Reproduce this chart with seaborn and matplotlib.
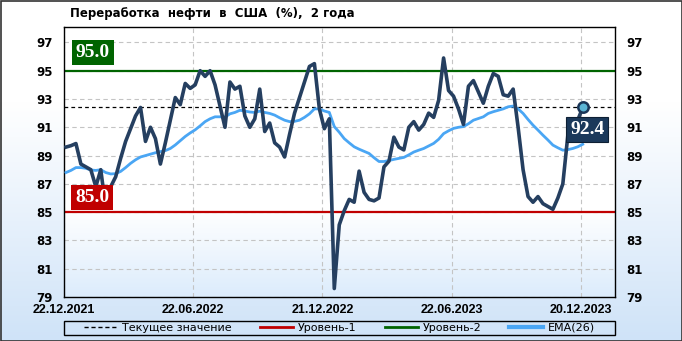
import matplotlib
matplotlib.use("Agg")
import numpy as np
import pandas as pd
import seaborn as sns
import matplotlib.pyplot as plt
from matplotlib.patches import Rectangle
from matplotlib.lines import Line2D

# ---------------- data ----------------
weeks = list(range(105))
refining = [89.6, 89.7, 89.85, 88.4, 88.2, 88.0, 86.8, 88.0, 85.3, 86.8,
            87.5, 88.8, 90.0, 90.9, 91.8, 92.4, 90.0, 91.0, 90.2, 88.4,
            89.9, 91.5, 93.1, 92.6, 94.1, 93.75, 94.0, 95.0, 94.6, 95.0,
            94.0, 92.5, 91.0, 94.2, 93.7, 93.9, 91.8, 91.0, 91.6, 93.7,
            90.7, 91.3, 89.9, 89.6, 88.9, 90.5, 92.0, 93.1, 94.2, 95.3,
            95.5, 92.3, 90.9, 91.6, 79.6, 84.1, 85.1, 85.9, 85.7, 87.9,
            86.4, 85.9, 85.8, 86.0, 88.2, 88.6, 90.3, 89.6, 89.4, 91.0,
            91.4, 90.8, 91.2, 92.0, 91.7, 92.9, 95.9, 93.6, 93.2, 92.3,
            91.2, 93.9, 94.3, 93.5, 92.7, 93.9, 94.8, 94.6, 93.3, 93.2,
            93.7, 91.0, 88.0, 86.1, 85.7, 86.1, 85.6, 85.4, 85.2, 86.0,
            87.0, 90.4, 91.1, 91.5, 92.4]
ema26 = [87.80, 87.95, 88.15, 88.15, 88.10, 87.98, 87.95, 88.00, 87.80, 87.70,
         87.72, 87.88, 88.15, 88.45, 88.70, 88.90, 89.00, 89.10, 89.20, 89.28,
         89.35, 89.50, 89.75, 90.05, 90.35, 90.60, 90.82, 91.10, 91.40, 91.60,
         91.74, 91.74, 91.72, 91.95, 92.05, 92.20, 92.15, 92.08, 92.05, 92.14,
         92.05, 91.98, 91.86, 91.67, 91.50, 91.40, 91.42, 91.50, 91.70, 91.95,
         92.30, 92.30, 92.15, 92.05, 91.05, 90.65, 90.20, 89.90, 89.62, 89.45,
         89.30, 89.15, 88.85, 88.58, 88.58, 88.65, 88.73, 88.80, 88.87, 89.05,
         89.25, 89.38, 89.50, 89.68, 89.86, 90.15, 90.55, 90.75, 90.92, 91.00,
         91.05, 91.25, 91.50, 91.62, 91.74, 91.98, 92.10, 92.20, 92.30, 92.45,
         92.50, 92.30, 91.98, 91.55, 91.15, 90.80, 90.44, 90.10, 89.74, 89.55,
         89.38, 89.42, 89.50, 89.62, 89.80]
level_1 = 85.0
level_2 = 95.0
current_value = 92.4
tick_weeks = [0, 26, 52, 78, 104]
tick_labels = ["22.12.2021", "22.06.2022", "21.12.2022", "22.06.2023", "20.12.2023"]
y_ticks = [79, 81, 83, 85, 87, 89, 91, 93, 95, 97]
title = "Переработка  нефти  в  США  (%),  2 года"
legend_labels = ["Текущее значение", "Уровень-1", "Уровень-2", "EMA(26)"]

df = pd.DataFrame({"pos": np.array(weeks) + 0.4, "value": refining, "ema": ema26})

W, H = 682, 341
XMAX = 110.9
YMIN, YMAX = 79, 98.09

fig = plt.figure(figsize=(W / 100, H / 100), dpi=100)

# figure background gradient
bg = fig.add_axes([0, 0, 1, 1], zorder=-10)
bg.set_axis_off()
n = 256
t = np.linspace(0, 1, n)  # 0 top -> 1 bottom
r = np.clip((t - 0.3) / 0.7, 0, 1)
top = np.array([1.0, 1.0, 1.0])
bottom = np.array([0xcf, 0xe3, 0xf8]) / 255
grad = top[None, :] * (1 - r[:, None]) + bottom[None, :] * r[:, None]
bg.imshow(grad[:, None, :], extent=[0, 1, 0, 1], aspect="auto")
bg.set_xlim(0, 1)
bg.set_ylim(0, 1)

ax = fig.add_axes([64 / W, 44 / H, 551 / W, 270 / H])
ax.patch.set_alpha(0)
r2 = np.clip((t - 0.68) / 0.32, 0, 1)
bottom2 = np.array([0xdc, 0xec, 0xfc]) / 255
grad2 = top[None, :] * (1 - r2[:, None]) + bottom2[None, :] * r2[:, None]
ax.imshow(grad2[:, None, :], extent=[0, XMAX, YMIN, YMAX], aspect="auto", zorder=-1)

ax.set_axisbelow(True)
ax.grid(True, color="#c4c4c4", linestyle=(0, (4, 3)), linewidth=0.8)

ax.axhline(level_1, color="#c00000", lw=1.6, zorder=2)
ax.axhline(level_2, color="#006400", lw=1.6, zorder=2)
ax.axhline(current_value, color="black", lw=0.9, ls=(0, (3, 2.5)), zorder=2)

sns.lineplot(data=df, x="pos", y="ema", color="#4aa6f4", linewidth=2.0,
             ax=ax, zorder=3, legend=False)
sns.lineplot(data=df, x="pos", y="value", color="#253f60", linewidth=2.6,
             ax=ax, zorder=4, legend=False)

ax.plot(df["pos"].iloc[-1], current_value, "o", ms=7.5, mfc="#5bb5d5",
        mec="#1a3557", mew=1.8, zorder=6)

box_font = dict(color="white", fontfamily="Liberation Serif", fontweight="bold",
                fontsize=14, ha="center", va="center", zorder=7)
ax.text(5.84, 96.28, f"{level_2:.1f}", bbox=dict(boxstyle="square,pad=0.2", fc="#006400", ec="none"), **box_font)
ax.text(5.63, 86.03, f"{level_1:.1f}", bbox=dict(boxstyle="square,pad=0.2", fc="#c00000", ec="none"), **box_font)
ax.text(105.3, 90.82, f"{current_value:.1f}", bbox=dict(boxstyle="square,pad=0.2", fc="#1b395b", ec="#0d1f33", lw=0.8), **box_font)

ax.set_xlim(0, XMAX)
ax.set_ylim(YMIN, YMAX)
ax.set_xlabel("")
ax.set_ylabel("")
ax.set_yticks(y_ticks)
ax.set_yticklabels([str(v) for v in y_ticks])
ax.set_xticks(tick_weeks)
ax.set_xticklabels(tick_labels)
ax.tick_params(axis="y", length=0, pad=8, labelleft=True, labelright=True)
ax.tick_params(axis="x", length=0, pad=5)
for lab in ax.get_yticklabels():
    lab.set_fontfamily("DejaVu Sans")
    lab.set_fontweight("bold")
    lab.set_fontsize(8.5)
for lab in ax.get_xticklabels():
    lab.set_fontfamily("Liberation Sans")
    lab.set_fontweight("bold")
    lab.set_fontsize(9)
for s in ax.spines.values():
    s.set_color("black")
    s.set_linewidth(1.0)

fig.text(70 / W, 1 - 14 / H, title, fontfamily="DejaVu Sans", fontweight="bold",
         fontsize=8.5, ha="left", va="center")

handles = [Line2D([], [], color="black", lw=1.0, ls=(0, (3, 2))),
           Line2D([], [], color="#c00000", lw=2.0),
           Line2D([], [], color="#006400", lw=2.0),
           Line2D([], [], color="#4aa6f4", lw=3.0)]
fig.legend(handles, legend_labels, loc="center", bbox_to_anchor=(339.5 / W, 1 - 328 / H),
           ncol=4, frameon=False, prop={"family": "DejaVu Sans", "size": 8},
           handlelength=3.0, handletextpad=0.45, columnspacing=2.5, borderpad=0)
fig.add_artist(Rectangle((64 / W, 6 / H), 551 / W, 14.3 / H, transform=fig.transFigure,
                         fill=False, ec="black", lw=1.0))
fig.add_artist(Rectangle((0.5 / W, 0.5 / H), 681 / W, 340 / H, transform=fig.transFigure,
                         fill=False, ec="#333333", lw=1.2))

fig.savefig("out.png", dpi=100)
